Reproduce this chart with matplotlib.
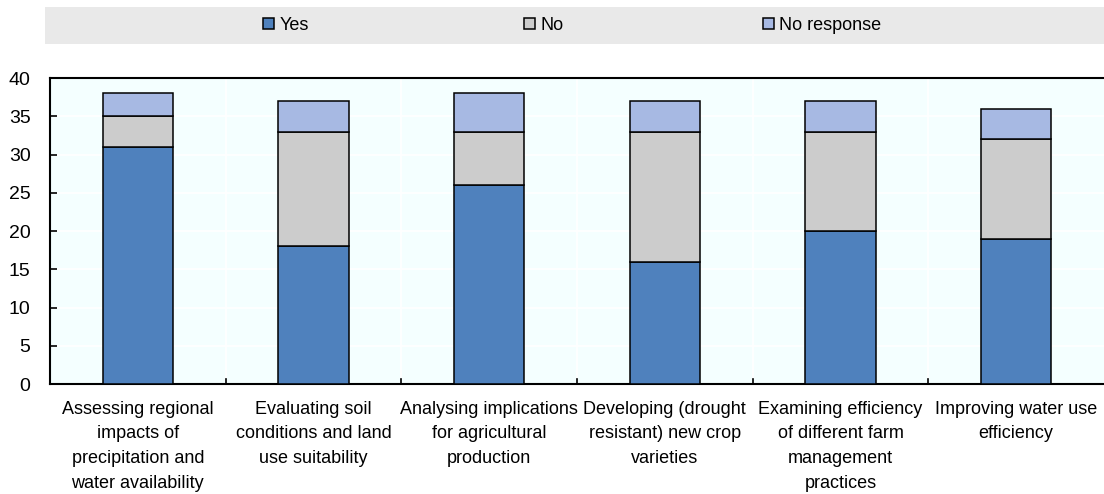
import matplotlib
matplotlib.use("Agg")
import matplotlib.pyplot as plt
from matplotlib.patches import Rectangle
import numpy as np

plt.rcParams["font.family"] = ["Liberation Sans", "DejaVu Sans"]

categorias = [
    "Assessing regional\nimpacts of\nprecipitation and\nwater availability",
    "Evaluating soil\nconditions and land\nuse suitability",
    "Analysing implications\nfor agricultural\nproduction",
    "Developing (drought\nresistant) new crop\nvarieties",
    "Examining efficiency\nof different farm\nmanagement\npractices",
    "Improving water use\nefficiency",
]
si = [31, 18, 26, 16, 20, 19]
no = [4, 15, 7, 17, 13, 13]
sin_resp = [3, 4, 5, 4, 4, 4]
series = ["Yes", "No", "No response"]
colores = ["#4f81bd", "#cccccc", "#a7b9e3"]
yticks = [0, 5, 10, 15, 20, 25, 30, 35, 40]

fig = plt.figure(figsize=(11.04, 4.94), dpi=100)
ax = fig.add_axes([50 / 1104, 1 - 384 / 494, 1054 / 1104, 306 / 494])
ax.set_facecolor("#f4ffff")

x = np.arange(len(categorias))
base = np.zeros(len(categorias))
for vals, nombre, col in zip([si, no, sin_resp], series, colores):
    ax.bar(x, vals, bottom=base, width=0.4, color=col, edgecolor="black",
           linewidth=1.1, label=nombre, zorder=3)
    base += np.array(vals)

ax.set_xlim(-0.5, len(categorias) - 0.5)
ax.set_ylim(0, 40)
ax.set_yticks(yticks)
ax.set_yticklabels([str(v) for v in yticks], fontsize=14)
ax.set_xticks(x)
ax.set_xticklabels(categorias, fontsize=13, linespacing=1.6)
ax.tick_params(axis="x", length=0, pad=12)
ax.tick_params(axis="y", direction="in", length=5, width=1.2, pad=14)

# cuadrícula blanca horizontal y separadores verticales entre categorías
for v in yticks[1:-1]:
    ax.axhline(v, color="white", lw=1.2, zorder=1)
for b in np.arange(0.5, len(categorias) - 0.5, 1):
    ax.axvline(b, color="white", lw=1.2, zorder=1)
    ax.plot([b, b], [0, 0.6], color="black", lw=1.2, zorder=4)

for lado in ["left", "bottom", "top"]:
    ax.spines[lado].set_linewidth(1.5)
    ax.spines[lado].set_color("black")
ax.spines["right"].set_visible(False)

# banda de la leyenda, una entrada por serie
fig.patches.append(Rectangle((45 / 1104, 1 - 44 / 494), 1059 / 1104, 37 / 494,
                             transform=fig.transFigure, facecolor="#e9e9e9",
                             edgecolor="none", zorder=0))
h, l = ax.get_legend_handles_labels()
for hi, li, xl in zip(h, l, [263, 524, 763]):
    fig.legend([hi], [li], loc="center left",
               bbox_to_anchor=(xl / 1104, 1 - 25.5 / 494),
               frameon=False, fontsize=13, handlelength=0.6, handleheight=0.6,
               handletextpad=0.3, borderpad=0, borderaxespad=0)

fig.savefig("out.png", dpi=100, facecolor="white")
